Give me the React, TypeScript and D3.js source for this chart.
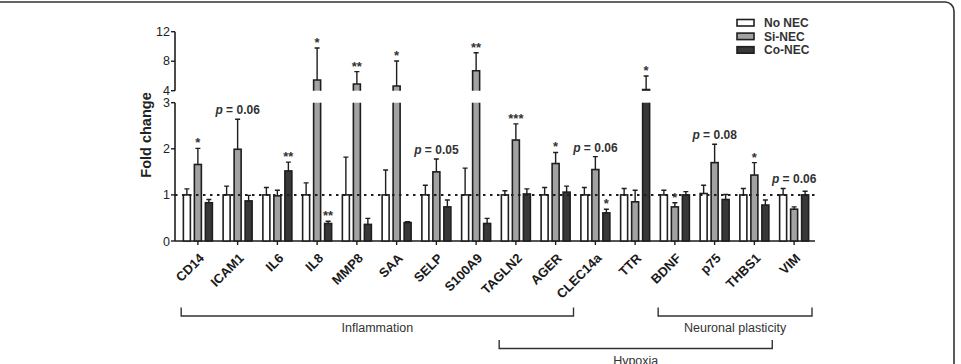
import React from "react";
import * as d3 from "d3";

// genes on the x axis
const categories = [
  "CD14", "ICAM1", "IL6", "IL8", "MMP8", "SAA", "SELP", "S100A9",
  "TAGLN2", "AGER", "CLEC14a", "TTR", "BDNF", "p75", "THBS1", "VIM",
];

const seriesNames = ["No NEC", "Si-NEC", "Co-NEC"];

// fold change (mean) and upper error per series
const noNec = [1, 1, 1, 1, 1, 1, 1, 1, 1, 1, 1, 1, 1, 1.03, 1, 1];
const noNecErr = [0.13, 0.19, 0.16, 0.26, 0.82, 0.54, 0.21, 0.58, 0.09, 0.16, 0.16, 0.14, 0.1, 0.18, 0.14, 0.14];
const siNec = [1.66, 1.99, 0.98, 5.45, 4.9, 4.64, 1.5, 6.71, 2.19, 1.68, 1.55, 0.85, 0.74, 1.7, 1.43, 0.69];
const siNecErr = [0.35, 0.65, 0.12, 4.35, 1.68, 3.39, 0.28, 2.44, 0.35, 0.24, 0.28, 0.25, 0.09, 0.4, 0.27, 0.05];
const coNec = [0.83, 0.87, 1.52, 0.38, 0.36, 0.4, 0.74, 0.38, 1.02, 1.06, 0.61, 4.15, 1.0, 0.9, 0.78, 1.0];
const coNecErr = [0.07, 0.12, 0.19, 0.05, 0.13, 0.02, 0.15, 0.11, 0.11, 0.13, 0.08, 1.85, 0.07, 0.11, 0.11, 0.08];

// significance marks: [gene, series index, label]
const stars: [string, number, string][] = [
  ["CD14", 1, "*"], ["IL6", 2, "**"], ["IL8", 1, "*"], ["IL8", 2, "**"],
  ["MMP8", 1, "**"], ["SAA", 1, "*"], ["S100A9", 1, "**"], ["TAGLN2", 1, "***"],
  ["AGER", 1, "*"], ["CLEC14a", 2, "*"], ["TTR", 2, "*"], ["BDNF", 1, "*"],
  ["THBS1", 1, "*"],
];
// trend p-values shown above the gene group
const pValues: [string, string][] = [
  ["ICAM1", "0.06"], ["SELP", "0.05"], ["CLEC14a", "0.06"], ["p75", "0.08"], ["VIM", "0.06"],
];

// functional groups under the axis: [label, first gene, last gene, row]
const groups: [string, string, string, number][] = [
  ["Inflammation", "CD14", "AGER", 0],
  ["Hypoxia", "TAGLN2", "THBS1", 1],
  ["Neuronal plasticity", "BDNF", "VIM", 0],
];

const yTicksLow = [0, 1, 2, 3];
const yTicksHigh = [4, 8, 12];

const fills = ["#ffffff", "#a2a2a2", "#383838"];
const ink = "#1e1e1e";
const font = "Arial, 'Liberation Sans', sans-serif";

export default function App() {
  const W = 961, H = 364;
  const means = [noNec, siNec, coNec];
  const errs = [noNecErr, siNecErr, coNecErr];

  const x = d3.scaleBand<string>().domain(categories).range([178, 814]).padding(0);
  const cx = (c: string) => (x(c) as number) + x.bandwidth() / 2;
  const step = x.step();

  // broken axis: 0–3 below, 4–12 above
  const yLow = d3.scaleLinear().domain([0, 3]).range([241, 102.7]);
  const yHigh = d3.scaleLinear().domain([4, 12]).range([90.7, 31.7]);
  const yv = (v: number) => (v <= 3 ? yLow(v) : yHigh(Math.max(v, 4)));

  const axisX = 175;
  const barW = 7;
  const offsets = [-11, 0, 11];

  const bars: React.ReactNode[] = [];
  categories.forEach((c, i) => {
    means.forEach((vals, s) => {
      const v = vals[i];
      const bx = cx(c) + offsets[s] - barW / 2;
      const top = v + errs[s][i];
      const mx = bx + barW / 2;
      if (v <= 3) {
        bars.push(
          <rect key={`b${i}-${s}`} x={bx} y={yLow(v)} width={barW} height={yLow(0) - yLow(v)}
            fill={fills[s]} stroke={ink} strokeWidth={1.6} />
        );
      } else {
        const l0 = yLow(0), l3 = yLow(3), h4 = yHigh(4), hv = yHigh(v);
        bars.push(
          <g key={`b${i}-${s}`}>
            <rect x={bx} y={l3} width={barW} height={l0 - l3} fill={fills[s]} />
            <path d={`M${bx},${l3}V${l0}H${bx + barW}V${l3}`} fill="none" stroke={ink} strokeWidth={1.6} />
            <rect x={bx} y={hv} width={barW} height={h4 - hv} fill={fills[s]} />
            <path d={`M${bx},${h4}V${hv}H${bx + barW}V${h4}`} fill="none" stroke={ink} strokeWidth={1.6} />
          </g>
        );
      }
      bars.push(
        <path key={`e${i}-${s}`} d={`M${mx},${yv(v)}V${yv(top)}M${mx - 2.5},${yv(top)}H${mx + 2.5}`}
          stroke={ink} strokeWidth={1.4} fill="none" />
      );
    });
  });

  const errTop = (c: string, s: number) => {
    const i = categories.indexOf(c);
    return yv(means[s][i] + errs[s][i]);
  };

  return (
    <svg width={W} height={H} style={{ position: "absolute", left: 0, top: 0, background: "#fff" }}
      fontFamily={font}>
      {/* panel frame */}
      <path d={`M0,2H945A9,9 0 0 1 954,11V${H}`} fill="none" stroke="#333" strokeWidth={1.6} />

      {/* y axis, two segments */}
      <line x1={axisX} x2={axisX} y1={yLow(0)} y2={yLow(3)} stroke={ink} strokeWidth={1.6} />
      <line x1={axisX} x2={axisX} y1={yHigh(4)} y2={yHigh(12)} stroke={ink} strokeWidth={1.6} />
      {yTicksLow.map((t) => (
        <g key={`tl${t}`}>
          <line x1={axisX - 4} x2={axisX} y1={yLow(t)} y2={yLow(t)} stroke={ink} strokeWidth={1.4} />
          <text x={axisX - 5} y={yLow(t) + 4.5} textAnchor="end" fontSize={12.5} fill="#222">{t}</text>
        </g>
      ))}
      {yTicksHigh.map((t) => (
        <g key={`th${t}`}>
          <line x1={axisX - 4} x2={axisX} y1={yHigh(t)} y2={yHigh(t)} stroke={ink} strokeWidth={1.4} />
          <text x={axisX - 5} y={yHigh(t) + 4} textAnchor="end" fontSize={12.5} fill="#222">{t}</text>
        </g>
      ))}
      <text transform={`translate(151,135) rotate(-90)`} textAnchor="middle" fontSize={14.5}
        fontWeight="bold" fill="#222">Fold change</text>

      {/* x axis */}
      <line x1={axisX} x2={815} y1={yLow(0)} y2={yLow(0)} stroke={ink} strokeWidth={1.6} />
      {categories.map((c) => (
        <g key={`xt${c}`}>
          <line x1={cx(c)} x2={cx(c)} y1={yLow(0)} y2={yLow(0) + 4} stroke={ink} strokeWidth={1.4} />
          <text transform={`translate(${cx(c) + 7},${yLow(0) + 18}) rotate(-45)`} textAnchor="end"
            fontSize={13} fontWeight="bold" fill="#1a1a1a">{c}</text>
        </g>
      ))}

      {bars}

      {/* baseline at fold change 1 */}
      <line x1={axisX} x2={815} y1={yLow(1)} y2={yLow(1)} stroke={ink} strokeWidth={2}
        strokeDasharray="2.5,4.5" />

      {stars.map(([c, s, label], k) => (
        <text key={`s${k}`} x={cx(c) + offsets[s]} y={errTop(c, s) - 1} textAnchor="middle"
          fontSize={13} fontWeight="bold" fill="#333">{label}</text>
      ))}
      {pValues.map(([c, p]) => {
        const top = Math.min(errTop(c, 0), errTop(c, 1), errTop(c, 2));
        return (
          <text key={`p${c}`} x={cx(c)} y={top - 5} textAnchor="middle" fontSize={12}
            fontWeight="bold" fill="#333">
            <tspan fontStyle="italic">p</tspan> = {p}
          </text>
        );
      })}

      {/* legend */}
      {seriesNames.map((n, s) => (
        <g key={`lg${n}`}>
          <rect x={737} y={19.5 + s * 13.6} width={17} height={6.5} fill={fills[s]} stroke={ink} strokeWidth={1.6} />
          <text x={764} y={27 + s * 13.6} fontSize={12} fontWeight="bold" fill="#333">{n}</text>
        </g>
      ))}

      {/* gene groups */}
      {groups.map(([label, a, b, row]) => {
        const x0 = cx(a) - 0.42 * step;
        const x1 = cx(b) + 0.45 * step;
        const ly = row === 0 ? 316 : 348.5;
        return (
          <g key={`g${label}`}>
            <path d={`M${x0},${ly - 8.5}V${ly}H${x1}V${ly - 8.5}`} fill="none" stroke="#333" strokeWidth={1.4} />
            <text x={(x0 + x1) / 2} y={ly + 16} textAnchor="middle" fontSize={12.5} fill="#333">{label}</text>
          </g>
        );
      })}
    </svg>
  );
}
